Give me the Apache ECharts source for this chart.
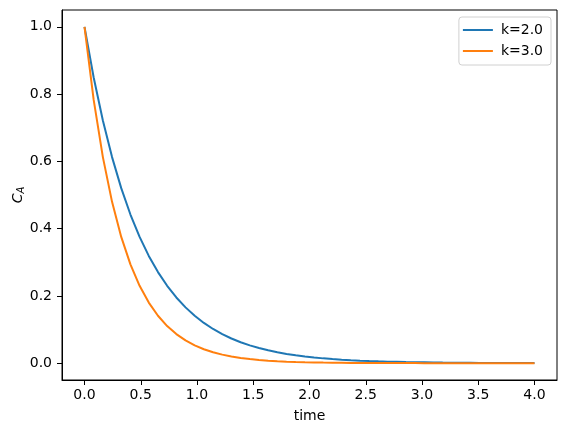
<!DOCTYPE html>
<html>
<head>
<meta charset="utf-8">
<script src="https://cdn.jsdelivr.net/npm/echarts@6/dist/echarts.min.js"></script>
<style>html,body{margin:0;padding:0;background:#fff}#c{width:567px;height:433px}</style>
</head>
<body>
<div id="c"></div>
<script>
const time = [0.0000,0.0816,0.1633,0.2449,0.3265,0.4082,0.4898,0.5714,0.6531,0.7347,0.8163,0.8980,0.9796,1.0612,1.1429,1.2245,1.3061,1.3878,1.4694,1.5510,1.6327,1.7143,1.7959,1.8776,1.9592,2.0408,2.1224,2.2041,2.2857,2.3673,2.4490,2.5306,2.6122,2.6939,2.7755,2.8571,2.9388,3.0204,3.1020,3.1837,3.2653,3.3469,3.4286,3.5102,3.5918,3.6735,3.7551,3.8367,3.9184,4.0000];
const cA_k2 = [1.0000,0.8494,0.7214,0.6127,0.5204,0.4420,0.3754,0.3189,0.2708,0.2300,0.1954,0.1659,0.1409,0.1197,0.1017,0.0864,0.0733,0.0623,0.0529,0.0449,0.0382,0.0324,0.0275,0.0234,0.0199,0.0169,0.0143,0.0122,0.0103,0.0088,0.0075,0.0063,0.0054,0.0046,0.0039,0.0033,0.0028,0.0024,0.0020,0.0017,0.0015,0.0012,0.0011,0.0009,0.0008,0.0006,0.0005,0.0005,0.0004,0.0003];
const cA_k3 = [1.0000,0.7828,0.6127,0.4796,0.3754,0.2939,0.2300,0.1801,0.1409,0.1103,0.0864,0.0676,0.0529,0.0414,0.0324,0.0254,0.0199,0.0156,0.0122,0.0095,0.0075,0.0058,0.0046,0.0036,0.0028,0.0022,0.0017,0.0013,0.0011,0.0008,0.0007,0.0005,0.0004,0.0003,0.0003,0.0002,0.0002,0.0001,0.0001,0.0001,0.0001,0.0000,0.0000,0.0000,0.0000,0.0000,0.0000,0.0000,0.0000,0.0000];
const seriesNames = ['k=2.0','k=3.0'];
const xTicks = [0.0,0.5,1.0,1.5,2.0,2.5,3.0,3.5,4.0];
const yTicks = [0.0,0.2,0.4,0.6,0.8,1.0];

const FONT = 'DejaVu Sans';
const chart = echarts.init(document.getElementById('c'), null, {renderer:'canvas'});
const pairs = (xs, ys) => xs.map((x,i)=>[x, ys[i]]);
const axisCommon = {
  axisLine:{show:true, onZero:false, lineStyle:{color:'#000', width:1}},
  axisTick:{show:true, length:5, lineStyle:{color:'#000', width:1}},
  splitLine:{show:false},
};
chart.setOption({
  animation:false,
  backgroundColor:'#fff',
  textStyle:{fontFamily:FONT},
  grid:{left:62, right:10, top:10, bottom:53, containLabel:false, outerBoundsMode:'none',
        show:true, borderColor:'#000', borderWidth:1, backgroundColor:'transparent'},
  legend:{
    orient:'vertical', right:16, top:17,
    icon:'rect', itemWidth:30, itemHeight:2, itemGap:5,
    padding:[5,8,6,4],
    borderColor:'#d0d0d0', borderWidth:1, borderRadius:3,
    backgroundColor:'rgba(255,255,255,0.8)',
    textStyle:{fontFamily:FONT, fontSize:14, lineHeight:16, color:'#000', padding:[0,0,0,3]},
    data:seriesNames
  },
  xAxis:Object.assign({}, axisCommon, {
    type:'value', min:-0.2, max:4.2,
    name:'time', nameLocation:'middle', nameGap:29, nameMoveOverlap:false,
    nameTextStyle:{fontFamily:FONT, fontSize:14, color:'#000'},
    axisTick:Object.assign({}, axisCommon.axisTick, {customValues:xTicks}),
    axisLabel:{customValues:xTicks, margin:8, fontFamily:FONT, fontSize:14, color:'#000', formatter:v=>v.toFixed(1)}
  }),
  yAxis:Object.assign({}, axisCommon, {
    type:'value', min:-0.05, max:1.05,
    name:'{c|C}{s|A}', nameLocation:'middle', nameGap:36, nameRotate:90, nameMoveOverlap:false,
    nameTextStyle:{fontFamily:FONT, fontSize:14, color:'#000',
      rich:{c:{fontFamily:FONT, fontSize:14, color:'#000', fontStyle:'italic'},
            s:{fontFamily:FONT, fontSize:10, color:'#000', fontStyle:'italic', verticalAlign:'bottom', padding:[6,0,0,0]}}},
    axisTick:Object.assign({}, axisCommon.axisTick, {customValues:yTicks}),
    axisLabel:{customValues:yTicks, margin:10, fontFamily:FONT, fontSize:14, color:'#000', formatter:v=>v.toFixed(1)}
  }),
  series:[
    {name:seriesNames[0], type:'line', data:pairs(time, cA_k2), symbol:'none', showSymbol:false,
     lineStyle:{color:'#1f77b4', width:2}, itemStyle:{color:'#1f77b4'}},
    {name:seriesNames[1], type:'line', data:pairs(time, cA_k3), symbol:'none', showSymbol:false,
     lineStyle:{color:'#ff7f0e', width:2}, itemStyle:{color:'#ff7f0e'}}
  ]
});
</script>
</body>
</html>
